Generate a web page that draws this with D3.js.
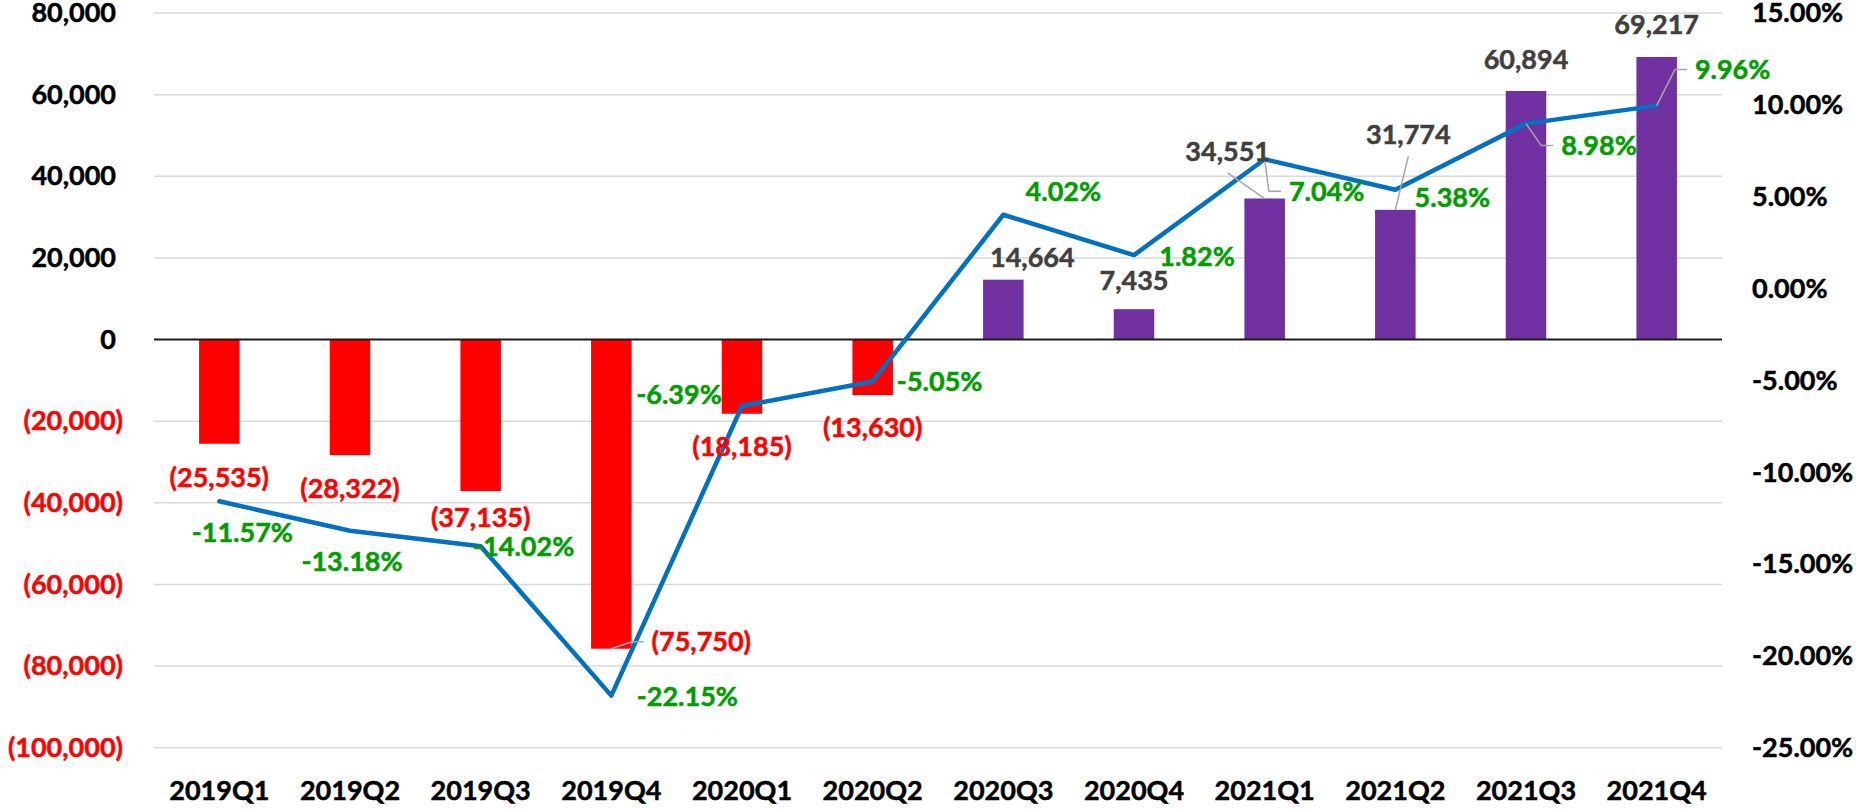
<!DOCTYPE html>
<html>
<head>
<meta charset="utf-8">
<script src="https://cdn.jsdelivr.net/npm/d3@7"></script>
<style>
  body { margin: 0; background: #fff; }
  svg text { font-family: Lato, "Open Sans", sans-serif; font-weight: bold; stroke-width: 0.5px; }
</style>
</head>
<body>
<svg id="chart" width="1864" height="811"></svg>
<script>
let d3 = window.d3;

const quarters = ["2019Q1", "2019Q2", "2019Q3", "2019Q4", "2020Q1", "2020Q2",
  "2020Q3", "2020Q4", "2021Q1", "2021Q2", "2021Q3", "2021Q4"];
const netValues = [-25535, -28322, -37135, -75750, -18185, -13630,
  14664, 7435, 34551, 31774, 60894, 69217];
const growthRates = [-0.1157, -0.1318, -0.1402, -0.2215, -0.0639, -0.0505,
  0.0402, 0.0182, 0.0704, 0.0538, 0.0898, 0.0996];
const leftTicks = [80000, 60000, 40000, 20000, 0, -20000, -40000, -60000, -80000, -100000];
const rightTicks = [0.15, 0.10, 0.05, 0, -0.05, -0.10, -0.15, -0.20, -0.25];

// where the labels were dragged to, offsets in px from the mark
const barLabelOffsets = [[0, 34], [0, 33], [0, 26], [90, -7], [0, 33], [0, 32],
  [29, -22], [0, -29], [-37, -47], [13, -75], [0, -31], [0, -32]];
const barLeaders = [null, null, null, "side", null, null, null, null, "below", "below", null, null];
const rateLabelOffsets = [[23, 31], [2, 31], [43, 0], [76, 1], [-63, -11], [67, 0],
  [60, -23], [63, 1], [62, 32], [57, 8], [73, 22], [76, -36]];
const rateLeaders = [null, null, null, null, null, null, null, null, "side", null, "side", "side"];

const MARGIN = { LEFT: 154, RIGHT: 142, TOP: 13, BOTTOM: 63 };
const width = 1864,
  height = 811;

const FONT_SIZE = 27;
const RED = "#FF0000",
  PURPLE = "#7030A0",
  GREEN = "#009C00",
  BLUE = "#0070C0",
  LABEL_GREY = "#404040",
  LEADER_GREY = "#A6A6A6";

const locale = d3.formatLocale({ decimal: ".", thousands: ",", grouping: [3], currency: ["$", ""], minus: "-" });
const fmtInt = locale.format(",d");
const fmtPct = locale.format(".2%");
const fmtAcct = (v) => (v < 0 ? "(" + fmtInt(-v) + ")" : fmtInt(v));

let svg = d3.select("#chart");

let xScale = d3
  .scaleBand()
  .domain(quarters)
  .range([MARGIN.LEFT, width - MARGIN.RIGHT])
  .paddingInner(0.69)
  .paddingOuter(0.345);

let yLeft = d3
  .scaleLinear()
  .domain([-100000, 80000])
  .range([height - MARGIN.BOTTOM - 0.3, MARGIN.TOP]);

let yRight = d3
  .scaleLinear()
  .domain([-0.25, 0.15])
  .range([height - MARGIN.BOTTOM, MARGIN.TOP]);

const cx = (i) => xScale(quarters[i]) + xScale.bandwidth() / 2;

// gridlines
svg
  .append("g")
  .selectAll("line")
  .data(leftTicks.filter((t) => t !== 0))
  .enter()
  .append("line")
  .attr("x1", MARGIN.LEFT)
  .attr("x2", width - MARGIN.RIGHT)
  .attr("y1", (d) => yLeft(d))
  .attr("y2", (d) => yLeft(d))
  .style("stroke", "#D9D9D9")
  .style("stroke-width", 1.5);

// left axis
let leftAxis = svg
  .append("g")
  .attr("transform", "translate(" + MARGIN.LEFT + ",0)")
  .call(d3.axisLeft(yLeft).tickValues(leftTicks).tickSize(0).tickPadding(31).tickFormat(fmtAcct));
leftAxis.select(".domain").remove();
leftAxis
  .selectAll(".tick text")
  .attr("font-size", FONT_SIZE)
  .attr("font-family", null)
  .attr("dx", (d) => (d < 0 ? 0 : -7))
  .style("fill", (d) => (d < 0 ? RED : "#000"))
  .style("stroke", (d) => (d < 0 ? RED : "#000"));

// right axis
let rightAxis = svg
  .append("g")
  .attr("transform", "translate(" + (width - MARGIN.RIGHT) + ",0)")
  .call(d3.axisRight(yRight).tickValues(rightTicks).tickSize(0).tickPadding(30).tickFormat(fmtPct));
rightAxis.select(".domain").remove();
rightAxis
  .selectAll(".tick text")
  .attr("font-size", FONT_SIZE)
  .attr("font-family", null)
  .style("fill", "#000")
  .style("stroke", "#000");

// category axis
let xAxis = svg
  .append("g")
  .attr("transform", "translate(0," + (height - MARGIN.BOTTOM) + ")")
  .call(d3.axisBottom(xScale).tickSize(0).tickPadding(33));
xAxis.select(".domain").remove();
xAxis
  .selectAll(".tick text")
  .attr("font-size", FONT_SIZE)
  .attr("font-family", null)
  .style("fill", "#000")
  .style("stroke", "#000");

// bars
svg
  .append("g")
  .selectAll("rect")
  .data(netValues)
  .enter()
  .append("rect")
  .attr("x", (d, i) => xScale(quarters[i]))
  .attr("width", xScale.bandwidth())
  .attr("y", (d) => yLeft(Math.max(0, d)))
  .attr("height", (d) => Math.abs(yLeft(d) - yLeft(0)))
  .style("fill", (d) => (d < 0 ? RED : PURPLE));

// zero line
svg
  .append("line")
  .attr("x1", MARGIN.LEFT)
  .attr("x2", width - MARGIN.RIGHT)
  .attr("y1", yLeft(0))
  .attr("y2", yLeft(0))
  .style("stroke", "#1a1a1a")
  .style("stroke-width", 2);

// growth line
let line = d3
  .line()
  .x((d, i) => cx(i))
  .y((d) => yRight(d));

svg
  .append("path")
  .datum(growthRates)
  .attr("d", line)
  .style("fill", "none")
  .style("stroke", BLUE)
  .style("stroke-width", 4.5)
  .style("stroke-linejoin", "round")
  .style("stroke-linecap", "round");

let leaderLayer = svg.append("g");
let labelLayer = svg.append("g");

function addLabels(values, yScale, offsets, leaders, textFn, colorFn) {
  values.forEach(function (v, i) {
    let ax = cx(i),
      ay = yScale(v);
    let lx = ax + offsets[i][0],
      ly = ay + offsets[i][1];
    let t = labelLayer
      .append("text")
      .attr("x", lx)
      .attr("y", ly)
      .attr("dy", "0.35em")
      .attr("text-anchor", "middle")
      .attr("font-size", FONT_SIZE)
      .style("fill", colorFn(v))
      .style("stroke", colorFn(v))
      .text(textFn(v));
    if (!leaders[i]) return;
    let box = t.node().getBBox();
    let pts;
    if (leaders[i] === "side") {
      pts = [[ax, ay], [box.x - 20, ly], [box.x - 8, ly]];
    } else {
      pts = [[lx, ly + FONT_SIZE * 0.35 + 12], [ax, ay]];
    }
    leaderLayer
      .append("path")
      .attr("d", d3.line()(pts))
      .style("fill", "none")
      .style("stroke", LEADER_GREY)
      .style("stroke-width", 1.5);
  });
}

addLabels(netValues, yLeft, barLabelOffsets, barLeaders, fmtAcct, (v) => (v < 0 ? RED : LABEL_GREY));
addLabels(growthRates, yRight, rateLabelOffsets, rateLeaders, fmtPct, () => GREEN);
</script>
</body>
</html>
